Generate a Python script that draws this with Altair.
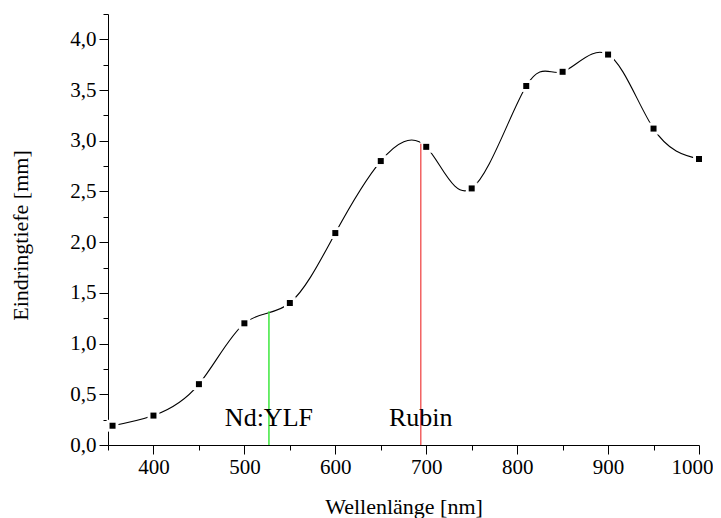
import altair as alt
import pandas as pd

# --- data ---
wavelength_nm = [355, 400, 450, 500, 550, 600, 650, 700, 750, 810, 850, 900, 950, 1000]
depth_mm = [0.19, 0.29, 0.60, 1.20, 1.40, 2.09, 2.80, 2.94, 2.53, 3.54, 3.68, 3.85, 3.12, 2.82]

laser_names = ["Nd:YLF", "Rubin"]
laser_nm = [527, 694]
laser_depth_mm = [1.32, 2.97]
laser_label_depth_mm = [0.19, 0.19]
laser_colors = ["#3ee83e", "#f26262"]

x_ticks = list(range(350, 1001, 50))
y_ticks = [i * 0.25 for i in range(0, 18)]

df = pd.DataFrame({"nm": wavelength_nm, "depth": depth_mm})
lasers = pd.DataFrame({"nm": laser_nm, "depth": laser_depth_mm, "name": laser_names})
labels = pd.DataFrame({"nm": laser_nm, "depth": laser_label_depth_mm, "name": laser_names})

FONT = "Liberation Serif"
W, H = 591, 431

xscale = alt.Scale(domain=[350, 1000], nice=False, zero=False)
yscale = alt.Scale(domain=[0, 4.25], nice=False, zero=False)

xaxis = alt.Axis(
    values=x_ticks,
    labelExpr="datum.value % 100 === 0 ? '' + datum.value : ''",
    tickSize={"condition": {"test": "datum.value % 100 === 0", "value": 9}, "value": 5},
    labelOffset={"condition": {"test": "datum.value === 1000", "value": -7}, "value": 0},
    title="Wellenlänge [nm]",
    titleY=61,
    titleBaseline="middle",
    grid=False,
    labelFlush=False,
    labelOverlap=False,
    labelPadding=2,
)
yaxis = alt.Axis(
    values=y_ticks,
    labelExpr="(datum.value * 2) % 1 === 0 ? replace(format(datum.value, '.1f'), '.', ',') : ''",
    tickSize={"condition": {"test": "(datum.value * 2) % 1 === 0", "value": 9}, "value": 5},
    title="Eindringtiefe [mm]",
    titleX=-88,
    titleY=221,
    titleAngle=270,
    titleAlign="center",
    titleBaseline="middle",
    grid=False,
    labelFlush=False,
    labelOverlap=False,
    labelPadding=3,
)

X = alt.X("nm:Q", scale=xscale, axis=xaxis)
Y = alt.Y("depth:Q", scale=yscale, axis=yaxis)

line = alt.Chart(df).mark_line(interpolate="natural", color="black", strokeWidth=1.1).encode(x=X, y=Y)
halo = alt.Chart(df).mark_point(shape="square", filled=True, color="white", size=140, opacity=1).encode(x=X, y=Y)
pts = alt.Chart(df).mark_point(shape="square", filled=True, color="black", size=36, opacity=1).encode(x=X, y=Y)
rules = alt.Chart(lasers).mark_rule(strokeWidth=1.5).encode(
    x=X,
    y=Y,
    y2=alt.datum(0),
    color=alt.Color("name:N", scale=alt.Scale(domain=laser_names, range=laser_colors), legend=None),
)
texts = alt.Chart(labels).mark_text(
    font=FONT, fontSize=26, baseline="alphabetic", align="center", color="black"
).encode(x=X, y=Y, text="name:N")

chart = alt.layer(line, halo, pts, rules, texts).properties(
    width=W,
    height=H,
    autosize=alt.AutoSizeParams(type="none"),
    padding={"left": 100, "top": 6, "right": 14, "bottom": 73},
).configure_view(stroke=None).configure_axis(
    domainColor="black",
    domainWidth=1,
    tickColor="black",
    tickWidth=1,
    labelColor="black",
    labelFont=FONT,
    labelFontSize=21,
    titleColor="black",
    titleFont=FONT,
    titleFontSize=22,
    titleFontWeight="normal",
)

chart.save("out.html", embed_options={"renderer": "svg", "actions": False})
